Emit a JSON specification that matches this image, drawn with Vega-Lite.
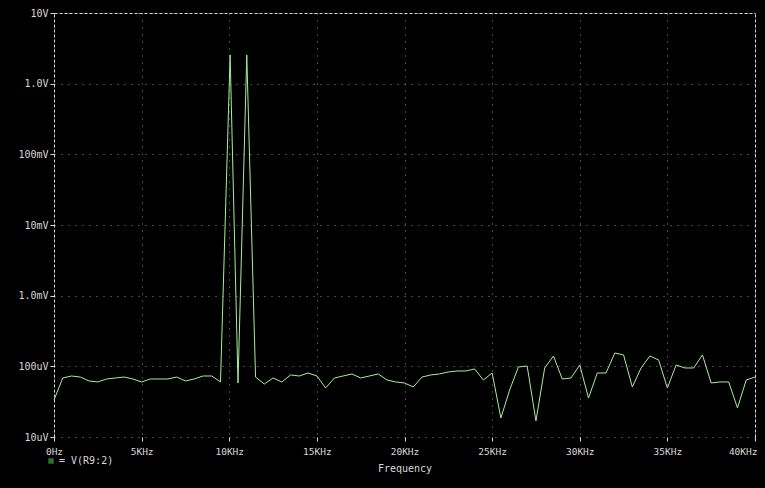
{
  "$schema": "https://vega.github.io/schema/vega-lite/v6.json",
  "width": 701,
  "height": 424,
  "autosize": {"type": "none"},
  "padding": {"left": 54, "top": 13, "right": 10, "bottom": 51},
  "background": "#000000",
  "config": {
    "view": {"stroke": null},
    "font": "DejaVu Sans Mono"
  },
  "data": {
    "values": [
      {"f": 0, "v": 3.34e-5, "s": "V(R9:2)"},
      {"f": 0.5, "v": 6.84e-5, "s": "V(R9:2)"},
      {"f": 1, "v": 7.3e-5, "s": "V(R9:2)"},
      {"f": 1.5, "v": 7.06e-5, "s": "V(R9:2)"},
      {"f": 2, "v": 6.21e-5, "s": "V(R9:2)"},
      {"f": 2.5, "v": 6.01e-5, "s": "V(R9:2)"},
      {"f": 3, "v": 6.62e-5, "s": "V(R9:2)"},
      {"f": 3.5, "v": 6.84e-5, "s": "V(R9:2)"},
      {"f": 4, "v": 7.06e-5, "s": "V(R9:2)"},
      {"f": 4.5, "v": 6.62e-5, "s": "V(R9:2)"},
      {"f": 5, "v": 6.01e-5, "s": "V(R9:2)"},
      {"f": 5.5, "v": 6.62e-5, "s": "V(R9:2)"},
      {"f": 6, "v": 6.62e-5, "s": "V(R9:2)"},
      {"f": 6.5, "v": 6.62e-5, "s": "V(R9:2)"},
      {"f": 7, "v": 7.06e-5, "s": "V(R9:2)"},
      {"f": 7.5, "v": 6.21e-5, "s": "V(R9:2)"},
      {"f": 8, "v": 6.62e-5, "s": "V(R9:2)"},
      {"f": 8.5, "v": 7.3e-5, "s": "V(R9:2)"},
      {"f": 9, "v": 7.3e-5, "s": "V(R9:2)"},
      {"f": 9.5, "v": 6.01e-5, "s": "V(R9:2)"},
      {"f": 10.05, "v": 2.55, "s": "V(R9:2)"},
      {"f": 10.5, "v": 5.81e-5, "s": "V(R9:2)"},
      {"f": 11, "v": 2.55, "s": "V(R9:2)"},
      {"f": 11.5, "v": 7.06e-5, "s": "V(R9:2)"},
      {"f": 12, "v": 5.62e-5, "s": "V(R9:2)"},
      {"f": 12.5, "v": 6.84e-5, "s": "V(R9:2)"},
      {"f": 13, "v": 6.01e-5, "s": "V(R9:2)"},
      {"f": 13.5, "v": 7.55e-5, "s": "V(R9:2)"},
      {"f": 14, "v": 7.3e-5, "s": "V(R9:2)"},
      {"f": 14.5, "v": 8.05e-5, "s": "V(R9:2)"},
      {"f": 15, "v": 7.3e-5, "s": "V(R9:2)"},
      {"f": 15.5, "v": 4.94e-5, "s": "V(R9:2)"},
      {"f": 16, "v": 6.84e-5, "s": "V(R9:2)"},
      {"f": 16.5, "v": 7.3e-5, "s": "V(R9:2)"},
      {"f": 17, "v": 7.8e-5, "s": "V(R9:2)"},
      {"f": 17.5, "v": 6.84e-5, "s": "V(R9:2)"},
      {"f": 18, "v": 7.3e-5, "s": "V(R9:2)"},
      {"f": 18.5, "v": 7.8e-5, "s": "V(R9:2)"},
      {"f": 19, "v": 6.41e-5, "s": "V(R9:2)"},
      {"f": 19.5, "v": 6.01e-5, "s": "V(R9:2)"},
      {"f": 20, "v": 5.81e-5, "s": "V(R9:2)"},
      {"f": 20.5, "v": 5.1e-5, "s": "V(R9:2)"},
      {"f": 21, "v": 7.06e-5, "s": "V(R9:2)"},
      {"f": 21.5, "v": 7.55e-5, "s": "V(R9:2)"},
      {"f": 22, "v": 7.8e-5, "s": "V(R9:2)"},
      {"f": 22.5, "v": 8.32e-5, "s": "V(R9:2)"},
      {"f": 23, "v": 8.59e-5, "s": "V(R9:2)"},
      {"f": 23.5, "v": 8.59e-5, "s": "V(R9:2)"},
      {"f": 24, "v": 9.18e-5, "s": "V(R9:2)"},
      {"f": 24.5, "v": 6.41e-5, "s": "V(R9:2)"},
      {"f": 25, "v": 8.05e-5, "s": "V(R9:2)"},
      {"f": 25.5, "v": 1.86e-5, "s": "V(R9:2)"},
      {"f": 26, "v": 4.62e-5, "s": "V(R9:2)"},
      {"f": 26.5, "v": 9.79e-5, "s": "V(R9:2)"},
      {"f": 27, "v": 1.01e-4, "s": "V(R9:2)"},
      {"f": 27.5, "v": 1.69e-5, "s": "V(R9:2)"},
      {"f": 28, "v": 9.48e-5, "s": "V(R9:2)"},
      {"f": 28.5, "v": 1.4e-4, "s": "V(R9:2)"},
      {"f": 29, "v": 6.62e-5, "s": "V(R9:2)"},
      {"f": 29.5, "v": 6.84e-5, "s": "V(R9:2)"},
      {"f": 30, "v": 1.045e-4, "s": "V(R9:2)"},
      {"f": 30.5, "v": 3.56e-5, "s": "V(R9:2)"},
      {"f": 31, "v": 8.05e-5, "s": "V(R9:2)"},
      {"f": 31.5, "v": 8.05e-5, "s": "V(R9:2)"},
      {"f": 32, "v": 1.545e-4, "s": "V(R9:2)"},
      {"f": 32.5, "v": 1.45e-4, "s": "V(R9:2)"},
      {"f": 33, "v": 5.1e-5, "s": "V(R9:2)"},
      {"f": 33.5, "v": 9.48e-5, "s": "V(R9:2)"},
      {"f": 34, "v": 1.4e-4, "s": "V(R9:2)"},
      {"f": 34.5, "v": 1.23e-4, "s": "V(R9:2)"},
      {"f": 35, "v": 4.94e-5, "s": "V(R9:2)"},
      {"f": 35.5, "v": 1.045e-4, "s": "V(R9:2)"},
      {"f": 36, "v": 9.48e-5, "s": "V(R9:2)"},
      {"f": 36.5, "v": 9.48e-5, "s": "V(R9:2)"},
      {"f": 37, "v": 1.45e-4, "s": "V(R9:2)"},
      {"f": 37.5, "v": 5.81e-5, "s": "V(R9:2)"},
      {"f": 38, "v": 6.01e-5, "s": "V(R9:2)"},
      {"f": 38.5, "v": 6.01e-5, "s": "V(R9:2)"},
      {"f": 39, "v": 2.58e-5, "s": "V(R9:2)"},
      {"f": 39.5, "v": 6.41e-5, "s": "V(R9:2)"},
      {"f": 40, "v": 7.06e-5, "s": "V(R9:2)"}
    ]
  },
  "resolve": {"axis": {"x": "independent", "y": "independent"}},
  "layer": [
    {
      "mark": {"type": "line", "strokeWidth": 1, "interpolate": "linear"},
      "encoding": {
        "x": {
          "field": "f", "type": "quantitative",
          "scale": {"domain": [0, 40], "nice": false, "zero": false},
          "axis": {
            "values": [0, 5, 10, 15, 20, 25, 30, 35, 40],
            "labelExpr": "datum.value == 0 ? '0Hz' : datum.value + 'KHz'",
            "title": "Frequency",
            "titleFont": "DejaVu Sans Mono",
            "titleFontSize": 10,
            "titleFontWeight": "normal",
            "titleColor": "#d8d8d8",
            "titlePadding": 8,
            "labelFont": "DejaVu Sans Mono",
            "labelFontSize": 9.5,
            "labelColor": "#d8d8d8",
            "labelPadding": 5,
            "labelAlign": {"condition": {"test": "datum.value == 40", "value": "right"}, "value": "center"},
            "labelOffset": {"condition": {"test": "datum.value == 40", "value": 2}, "value": 0},
            "domain": false,
            "tickColor": "#d8d8d8",
            "tickSize": 4,
            "grid": true,
            "gridColor": "#8c8c8c",
            "gridDash": [1, 6],
            "gridWidth": 1
          }
        },
        "y": {
          "field": "v", "type": "quantitative",
          "scale": {"type": "log", "domain": [1e-5, 10], "nice": false},
          "axis": {
            "values": [1e-5, 1e-4, 1e-3, 1e-2, 1e-1, 1, 10],
            "labelExpr": "datum.value >= 9 ? '10V' : datum.value >= 0.9 ? '1.0V' : datum.value >= 0.09 ? '100mV' : datum.value >= 0.009 ? '10mV' : datum.value >= 0.0009 ? '1.0mV' : datum.value >= 0.00009 ? '100uV' : '10uV'",
            "title": null,
            "labelFont": "DejaVu Sans Mono",
            "labelFontSize": 10,
            "labelColor": "#d8d8d8",
            "labelPadding": 2,
            "tickColor": "#d8d8d8",
            "tickSize": 4,
            "domain": true,
            "domainColor": "#d8d8d8",
            "domainDash": [3, 2],
            "domainWidth": 1,
            "grid": true,
            "gridColor": "#8c8c8c",
            "gridDash": [1, 6],
            "gridWidth": 1
          }
        },
        "color": {
          "field": "s", "type": "nominal",
          "scale": {"range": ["#a6f09a"]},
          "legend": {
            "orient": "none",
            "legendX": -8,
            "legendY": 443,
            "title": null,
            "padding": 0,
            "symbolType": "square",
            "symbolSize": 30,
            "symbolFillColor": "#2f6f2f",
            "symbolStrokeColor": "#2f6f2f",
            "symbolStrokeWidth": 0,
            "labelExpr": "'= ' + datum.label",
            "labelFont": "DejaVu Sans Mono",
            "labelFontSize": 10,
            "labelColor": "#d8d8d8",
            "labelOffset": 3
          }
        }
      }
    },
    {
      "mark": {"type": "line", "strokeWidth": 1, "opacity": 0},
      "encoding": {
        "x": {
          "field": "f", "type": "quantitative",
          "axis": {"orient": "top", "labels": false, "ticks": false, "grid": false, "title": null, "domainColor": "#d8d8d8", "domainDash": [3, 2]}
        },
        "y": {
          "field": "v", "type": "quantitative",
          "axis": {"orient": "right", "labels": false, "ticks": false, "grid": false, "title": null, "domainColor": "#d8d8d8", "domainDash": [3, 2]}
        }
      }
    }
  ]
}
